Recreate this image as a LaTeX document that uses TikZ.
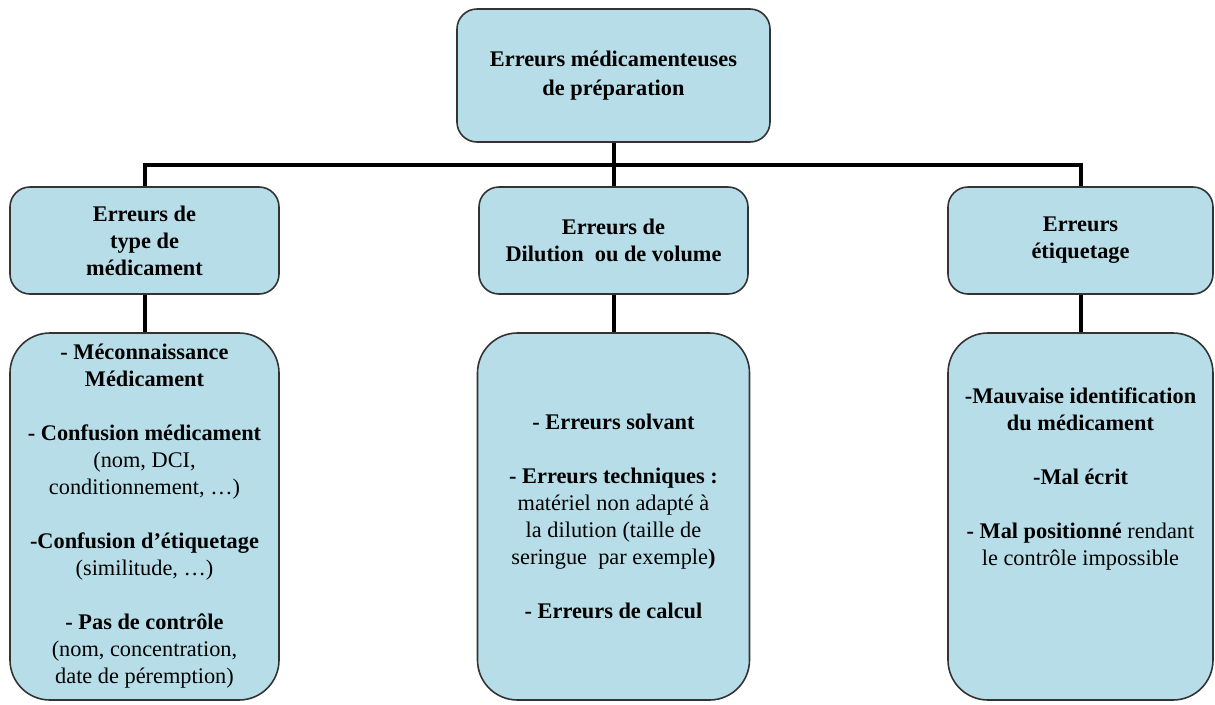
\documentclass[tikz,border=0pt]{standalone}
\usepackage{fontspec}
\setmainfont{Liberation Serif}
\usepackage{xcolor}
\usepackage{tikz}

\definecolor{boxfill}{RGB}{183,222,232}

\begin{document}
\begin{tikzpicture}[x=0.75pt,y=-0.75pt,
        box/.style={draw=black!80, line width=1.2pt, fill=boxfill, rounded corners=15pt,
            align=center, inner sep=0pt, font=\bfseries\fontsize{16.75}{20.25}\selectfont},
        headbox/.style={box, minimum width=201.75pt, minimum height=80.25pt},
        listbox/.style={box, rounded corners=30pt, minimum width=201.75pt, minimum height=275.25pt},
        conn/.style={line width=3pt}]
        \useasboundingbox (0,0) rectangle (1215,704);

        \coordinate (T) at (613.5,75.5);
        \coordinate (A) at (144.5,240.5);
        \coordinate (B) at (613.5,240.5);
        \coordinate (C) at (1080.5,240.5);
        \coordinate (Ad) at (144.5,516.5);
        \coordinate (Bd) at (613.5,516.5);
        \coordinate (Cd) at (1080.5,516.5);
        \coordinate (bus) at (613.5,165);

        \node[box, minimum width=234.75pt, minimum height=99.75pt] (top) at (T)
            {Erreurs médicamenteuses\\[1.5pt] de préparation};

        \node[headbox] (typ) at (A) {Erreurs de\\ type de\\ médicament};
        \node[headbox] (dil) at (B) {Erreurs de\\ Dilution\ \ ou de volume};
        \node[headbox, minimum width=198.75pt] (eti) at (C) {Erreurs\\ étiquetage};

        \node[listbox] (typlist) at (Ad) {- Méconnaissance\\ Médicament\\[20.25pt]
            - Confusion médicament\\ {\mdseries (nom, DCI,}\\ {\mdseries conditionnement, …)}\\[20.25pt]
            -Confusion d’étiquetage\\ {\mdseries (similitude, …)}\\[20.25pt]
            - Pas de contrôle\\ {\mdseries (nom, concentration,}\\ {\mdseries date de péremption)}};
        \node[listbox, minimum width=204pt] (dillist) at (Bd) {- Erreurs solvant\\[20.25pt]
            - Erreurs techniques :\\ {\mdseries matériel non adapté à}\\ {\mdseries la dilution (taille de}\\
            {\mdseries seringue\ \ par exemple})\\[20.25pt]
            - Erreurs de calcul};
        \node[listbox, minimum width=198.75pt] (etilist) at (Cd) {-Mauvaise identification\\ du médicament\\[20.25pt]
            -Mal écrit\\[20.25pt]
            - Mal positionné {\mdseries rendant}\\ {\mdseries le contrôle impossible}\\[40pt]\mbox{}};

        \draw[conn] (top.south) -- (dil.north);
        \draw[conn] (typ.north) |- (bus) -| (eti.north);
        \draw[conn] (typ.south) -- (typlist.north);
        \draw[conn] (dil.south) -- (dillist.north);
        \draw[conn] (eti.south) -- (etilist.north);
    \end{tikzpicture}
\end{document}
